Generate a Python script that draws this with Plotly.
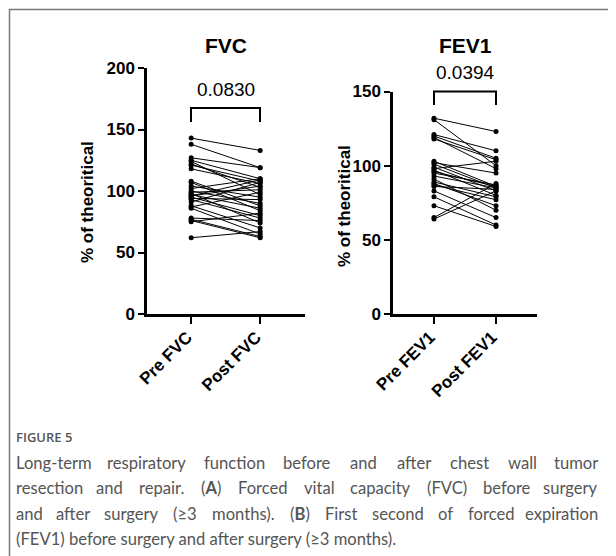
import re
import plotly.graph_objects as go

# page is shown with an 8px body margin, so the figure is offset by 8px
OFF = 8
W, H = 608, 548

# ---------------- data ----------------
fvc_categories = ["Pre FVC", "Post FVC"]
fvc_pre = [143, 138, 127, 125, 124, 122, 121, 118, 108, 107, 104, 102, 100, 99, 98,
           97, 96, 95, 94, 93, 91, 88, 87, 86, 78, 77, 76, 75, 62, 96]
fvc_post = [133, 119, 119, 110, 97, 103, 108, 106, 88, 84, 95, 110, 90, 101, 74,
            86, 109, 80, 93, 78, 107, 70, 99, 65, 76, 63, 62, 82, 67, 104]
fvc_p = "0.0830"

fev1_categories = ["Pre FEV1", "Post FEV1"]
fev1_pre = [132, 131, 121, 120, 119, 118, 103, 102, 101, 99, 98, 97, 96, 95, 93,
            91, 89, 88, 87, 86, 83, 79, 73, 65, 64]
fev1_post = [123, 100, 110, 105, 98, 104, 86, 95, 85, 83, 103, 80, 86, 87, 85,
             70, 79, 73, 77, 84, 65, 60, 59, 88, 83]
fev1_p = "0.0394"

fvc_yticks = [0, 50, 100, 150, 200]
fev1_yticks = [0, 50, 100, 150]
y_title = "% of theoritical"

caption_head = "FIGURE 5"
caption_lines = [
    "Long-term respiratory function before and after chest wall tumor",
    "resection and repair. (<b>A</b>) Forced vital capacity (FVC) before surgery",
    "and after surgery (≥3 months). (<b>B</b>) First second of forced expiration",
    "(FEV1) before surgery and after surgery (≥3 months).",
]

# ---------------- helpers ----------------
def px(x):
    return (x - OFF) / W

def py(y):
    return 1 - (y - OFF) / H

FONT = "Liberation Sans, Arial, sans-serif"
CAP_FONT = "Lato, sans-serif"
CAP_SIZE = 16.6

# approximate Lato advance widths (em) for justification of the caption
LATO_W = {
    'a': .49, 'b': .55, 'c': .45, 'd': .55, 'e': .51, 'f': .32, 'g': .49, 'h': .55,
    'i': .23, 'j': .23, 'k': .49, 'l': .23, 'm': .83, 'n': .55, 'o': .55, 'p': .55,
    'q': .55, 'r': .36, 's': .42, 't': .34, 'u': .55, 'v': .50, 'w': .75, 'x': .48,
    'y': .50, 'z': .44, 'A': .68, 'B': .64, 'C': .66, 'E': .55, 'F': .54, 'L': .49,
    'V': .66, '(': .29, ')': .29, '.': .21, '-': .34, '≥': .58, ' ': .19,
}

def text_width(s, size):
    plain = re.sub(r"<[^>]+>", "", s)
    return sum(LATO_W.get(c, .58 if c.isdigit() else .52) for c in plain) * size

fig = go.Figure()

for pre, post in zip(fvc_pre, fvc_post):
    fig.add_trace(go.Scatter(x=fvc_categories, y=[pre, post], mode="lines+markers",
                             line=dict(color="black", width=1),
                             marker=dict(color="black", size=5),
                             xaxis="x", yaxis="y", showlegend=False, hoverinfo="skip"))
for pre, post in zip(fev1_pre, fev1_post):
    fig.add_trace(go.Scatter(x=fev1_categories, y=[pre, post], mode="lines+markers",
                             line=dict(color="black", width=1),
                             marker=dict(color="black", size=5),
                             xaxis="x2", yaxis="y2", showlegend=False, hoverinfo="skip"))

def axis_style(ticklen):
    return dict(showline=True, linecolor="black", linewidth=2.5, ticks="outside",
                ticklen=ticklen, tickwidth=2, tickcolor="black", showgrid=False,
                zeroline=False, fixedrange=True, automargin=False,
                tickfont=dict(family=FONT, size=17, color="black", weight=700))

xlab = dict(tickangle=-45, ticklabelshift=-4, ticklabelstandoff=-3)

fig.update_layout(
    width=W, height=H, margin=dict(l=0, r=0, t=0, b=0, autoexpand=False),
    paper_bgcolor="white", plot_bgcolor="white", showlegend=False,
    xaxis=dict(domain=[px(147), px(305)], anchor="y", type="category",
               categoryorder="array", categoryarray=fvc_categories,
               range=[-0.64, 1.65], **xlab, **axis_style(7)),
    yaxis=dict(domain=[py(314), py(68)], anchor="x", range=[0, 200],
               tickvals=fvc_yticks, **axis_style(6)),
    xaxis2=dict(domain=[px(393), px(537)], anchor="y2", type="category",
                categoryorder="array", categoryarray=fev1_categories,
                range=[-0.66, 1.66], **xlab, **axis_style(7)),
    yaxis2=dict(domain=[py(314), py(91.5)], anchor="x2", range=[0, 150],
                tickvals=fev1_yticks, **axis_style(6)),
)

ann = []
# panel titles
ann.append(dict(x=px(226), y=py(46), text="<b>FVC</b>", font=dict(family=FONT, size=21, color="black")))
ann.append(dict(x=px(465), y=py(45), text="<b>FEV1</b>", font=dict(family=FONT, size=21, color="black")))
# p values
ann.append(dict(x=px(226), y=py(90), text=fvc_p, font=dict(family=FONT, size=19, color="black")))
ann.append(dict(x=px(465), y=py(73), text=fev1_p, font=dict(family=FONT, size=19, color="black")))
# y titles
ann.append(dict(x=px(88), y=py(202), text="<b>" + y_title + "</b>", textangle=-90,
                font=dict(family=FONT, size=17, color="black")))
ann.append(dict(x=px(344), y=py(206), text="<b>" + y_title + "</b>", textangle=-90,
                font=dict(family=FONT, size=17, color="black")))
# caption
ann.append(dict(x=px(14), y=py(437), text=caption_head, xanchor="left",
                font=dict(family="Open Sans, sans-serif", size=13, color="#555555", weight=600)))
cap_font = dict(family=CAP_FONT, size=CAP_SIZE, color="#555555")
LEFT, RIGHT = 14, 600
for i, line in enumerate(caption_lines):
    yy = py(463 + i * 25.3)
    if i == len(caption_lines) - 1:
        ann.append(dict(x=px(LEFT), y=yy, text=line, xanchor="left", font=cap_font))
        continue
    words = line.split(" ")
    ws = [text_width(w, CAP_SIZE) for w in words]
    gap = (RIGHT - LEFT - sum(ws)) / (len(words) - 1)
    xpos = LEFT
    for k, (w, wd) in enumerate(zip(words, ws)):
        if k == 0:
            ann.append(dict(x=px(LEFT), y=yy, text=w, xanchor="left", font=cap_font))
        elif k == len(words) - 1:
            ann.append(dict(x=px(RIGHT), y=yy, text=w, xanchor="right", font=cap_font))
        else:
            ann.append(dict(x=px(xpos + wd / 2), y=yy, text=w, xanchor="center", font=cap_font))
        xpos += wd + gap
for a in ann:
    a.setdefault("xref", "paper")
    a.setdefault("yref", "paper")
    a.setdefault("showarrow", False)
    a.setdefault("yanchor", "middle")
    a.setdefault("xanchor", "center")
fig.update_layout(annotations=ann)

shapes = []
# significance brackets
for (x0, x1, ytop, ybot) in [(191, 260, 108, 122), (434, 496, 91.5, 105)]:
    shapes.append(dict(type="path", xref="paper", yref="paper",
                       path=f"M {px(x0)},{py(ybot)} L {px(x0)},{py(ytop)} L {px(x1)},{py(ytop)} L {px(x1)},{py(ybot)}",
                       line=dict(color="black", width=2)))
# outer frame (right/bottom edges out of view)
shapes.append(dict(type="rect", xref="paper", yref="paper",
                   x0=px(9.5), x1=1.05, y0=-0.05, y1=py(9.5),
                   line=dict(color="#7a7a7a", width=1.5), fillcolor="rgba(0,0,0,0)"))
fig.update_layout(shapes=shapes)

fig.write_html("out.html")
